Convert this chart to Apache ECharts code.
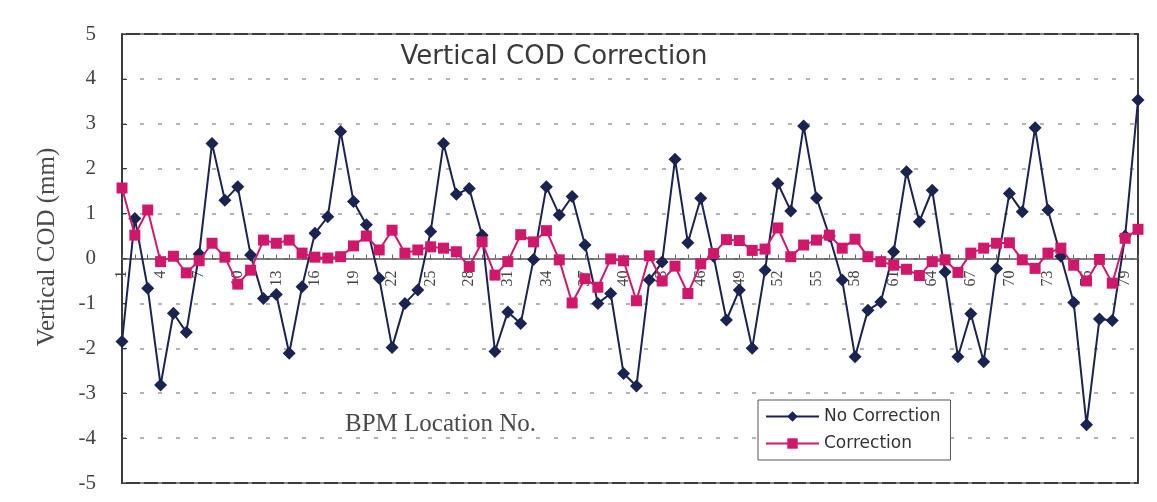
<!DOCTYPE html>
<html>
<head>
<meta charset="utf-8">
<title>Vertical COD Correction</title>
<script src="https://cdn.jsdelivr.net/npm/echarts@6/dist/echarts.min.js"></script>
<style>
  html, body { margin: 0; padding: 0; background: #ffffff; }
  #chart { width: 1157px; height: 502px; }
</style>
</head>
<body>
<div id="chart"></div>
<script>
// BPM location numbers 1..80
const bpmLocations = Array.from({ length: 80 }, (_, i) => String(i + 1));

// Vertical closed-orbit distortion (mm) before correction
const noCorrection = [
  -1.85, 0.89, -0.66, -2.82, -1.22, -1.64, 0.10, 2.56, 1.30, 1.60,
  0.08, -0.89, -0.80, -2.11, -0.63, 0.56, 0.93, 2.83, 1.27, 0.75,
  -0.44, -1.98, -1.00, -0.70, 0.60, 2.56, 1.43, 1.56, 0.52, -2.07,
  -1.19, -1.45, -0.02, 1.60, 0.97, 1.38, 0.30, -1.00, -0.78, -2.56,
  -2.84, -0.48, -0.08, 2.21, 0.35, 1.34, 0.05, -1.37, -0.70, -2.00,
  -0.26, 1.67, 1.06, 2.95, 1.35, 0.50, -0.48, -2.19, -1.15, -0.97,
  0.15, 1.93, 0.82, 1.52, -0.30, -2.19, -1.23, -2.30, -0.22, 1.45,
  1.04, 2.91, 1.08, 0.05, -0.98, -3.70, -1.35, -1.38, 0.50, 3.53
];

// Vertical closed-orbit distortion (mm) after correction
const correction = [
  1.57, 0.52, 1.08, -0.07, 0.05, -0.32, -0.05, 0.34, 0.03, -0.57,
  -0.26, 0.41, 0.34, 0.41, 0.12, 0.03, 0.01, 0.04, 0.28, 0.50,
  0.19, 0.63, 0.12, 0.19, 0.26, 0.23, 0.15, -0.18, 0.37, -0.37,
  -0.07, 0.53, 0.37, 0.62, -0.03, -0.99, -0.45, -0.64, -0.01, -0.05,
  -0.94, 0.06, -0.50, -0.17, -0.78, -0.12, 0.11, 0.42, 0.40, 0.18,
  0.21, 0.68, 0.04, 0.30, 0.41, 0.52, 0.23, 0.43, 0.04, -0.07,
  -0.15, -0.24, -0.38, -0.07, -0.03, -0.31, 0.12, 0.23, 0.34, 0.35,
  -0.03, -0.22, 0.12, 0.23, -0.15, -0.50, -0.02, -0.55, 0.45, 0.65
];

const seriesNames = ['No Correction', 'Correction'];
const yMin = -5, yMax = 5, yStep = 1;

const NAVY = '#1b2350';
const MAGENTA = '#d0186b';
const FRAME = '#3c3c3c';
const SERIF = '"Liberation Serif", "DejaVu Serif", serif';
const SANS = '"DejaVu Sans", "Liberation Sans", sans-serif';

const GRID = { left: 122, right: 19, top: 34, bottom: 19 };
const plotHeight = 502 - GRID.top - GRID.bottom;
// lift the category axis from the bottom edge up to the y = 0 line
const zeroLift = plotHeight * (yMax - 0) / (yMax - yMin) - plotHeight;

const chart = echarts.init(document.getElementById('chart'), null, { renderer: 'canvas' });

chart.setOption({
  animation: false,
  backgroundColor: '#ffffff',
  grid: Object.assign({}, GRID, {
    show: true, borderColor: FRAME, borderWidth: 2, backgroundColor: '#ffffff'
  }),
  legend: {
    orient: 'vertical',
    left: 758, top: 400,
    padding: [8, 10, 8, 7],
    itemGap: 10,
    itemWidth: 53, itemHeight: 13,
    backgroundColor: '#ffffff',
    borderColor: '#555555', borderWidth: 1, borderRadius: 0,
    textStyle: { fontFamily: SANS, fontSize: 17, color: '#333333' },
    data: seriesNames
  },
  xAxis: {
    type: 'category',
    data: bpmLocations,
    boundaryGap: false,
    offset: zeroLift,
    axisLine: { onZero: false, lineStyle: { color: '#555555', width: 1.5 } },
    axisTick: { show: true, inside: true, length: 4, interval: 0, lineStyle: { color: '#666666' } },
    axisLabel: {
      interval: 2, rotate: 90, margin: 12,
      fontFamily: SERIF, fontSize: 16, color: '#444444'
    },
    splitLine: { show: false }
  },
  yAxis: {
    type: 'value',
    min: yMin, max: yMax, interval: yStep,
    axisLine: { show: true, lineStyle: { color: FRAME, width: 2 } },
    axisTick: { show: true, inside: true, length: 5, lineStyle: { color: FRAME } },
    axisLabel: { margin: 26, fontFamily: SERIF, fontSize: 21, color: '#444444' },
    splitLine: { show: true, lineStyle: { color: '#9a9a9a', width: 1.5, type: [4, 14] } }
  },
  series: [
    {
      name: seriesNames[0],
      type: 'line',
      data: noCorrection,
      symbol: 'diamond', symbolSize: 13,
      showAllSymbol: true,
      lineStyle: { color: NAVY, width: 2 },
      itemStyle: { color: NAVY },
      z: 2
    },
    {
      name: seriesNames[1],
      type: 'line',
      data: correction,
      symbol: 'rect', symbolSize: 11,
      showAllSymbol: true,
      lineStyle: { color: MAGENTA, width: 2 },
      itemStyle: { color: MAGENTA },
      z: 3
    }
  ],
  graphic: [
    {
      type: 'text', x: 554, y: 57,
      style: {
        text: 'Vertical COD Correction', fill: '#3a3a3a',
        font: '26px ' + SANS, textAlign: 'center', textVerticalAlign: 'middle'
      },
      z: 10
    },
    {
      type: 'text', x: 345, y: 424,
      style: {
        text: 'BPM Location No.', fill: '#4a4a4a',
        font: '25px ' + SERIF, textAlign: 'left', textVerticalAlign: 'middle'
      },
      z: 10
    },
    {
      type: 'text', x: 47, y: 247, rotation: Math.PI / 2,
      style: {
        text: 'Vertical COD (mm)', fill: '#4a4a4a',
        font: '25px ' + SERIF, textAlign: 'center', textVerticalAlign: 'middle'
      },
      z: 10
    }
  ]
});
</script>
</body>
</html>
